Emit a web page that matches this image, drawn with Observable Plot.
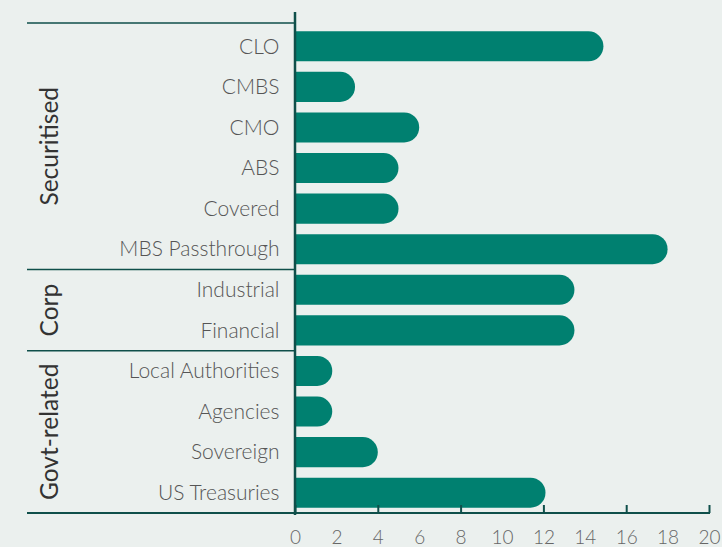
<!DOCTYPE html>
<html><head><meta charset="utf-8">
<script src="https://cdn.jsdelivr.net/npm/d3@7"></script>
<script src="https://cdn.jsdelivr.net/npm/@observablehq/plot@0.6"></script>
<style>
html,body{margin:0;padding:0;background:#ebf0ee;overflow:hidden;}
</style></head><body><div id="chart"></div>
<script>
const categories = ["CLO","CMBS","CMO","ABS","Covered","MBS Passthrough","Industrial","Financial","Local Authorities","Agencies","Sovereign","US Treasuries"];
const values = [14.9, 2.9, 6, 5, 5, 18, 13.5, 13.5, 1.8, 1.8, 4, 12.1];
const groupOf = ["Securitised","Securitised","Securitised","Securitised","Securitised","Securitised","Corp","Corp","Govt-related","Govt-related","Govt-related","Govt-related"];
const groupNames = ["Securitised","Corp","Govt-related"];
const xTickLabels = [0,2,4,6,8,10,12,14,16,18,20];
const xTickMarks = [0,4,8,12,16,20];

const data = categories.map((c,i)=>({category:c, value:values[i], group:groupOf[i]}));

const BAR = "#008070", LINE = "#0f4f4a";
const W = 722, H = 547, mTop = 26, mBottom = 34;

const plot = Plot.plot({
  width: W, height: H,
  marginLeft: 295, marginRight: 13, marginTop: mTop, marginBottom: mBottom,
  style: {background: "transparent", fontFamily: "Lato, 'Open Sans', sans-serif", overflow: "visible"},
  x: {domain: [0, 20]},
  y: {domain: categories, paddingInner: 0.26, paddingOuter: 0.13, round: false},
  marks: [
    // bar starts left of the frame so only its right end shows rounded; left part clipped at x = 0
    Plot.barX(data, {y: "category", x1: -1, x2: "value", fill: BAR, rx: 15, clip: true}),
    Plot.axisY({tickSize: 0, tickPadding: 16, fontSize: 21, fill: "#555", fontWeight: 300, label: null}),
    Plot.axisX({ticks: xTickLabels, tickSize: 0, tickPadding: 17, fontSize: 19, fill: "#666", fontWeight: 300, label: null}),
    Plot.ruleX(xTickMarks, {stroke: LINE, strokeWidth: 2, insetTop: H - mTop - mBottom - 8})
  ]
});
document.getElementById("chart").appendChild(plot);

const svg = d3.select(plot);
const ys = plot.scale("y"), xs = plot.scale("x");
const step = ys.step, bw = ys.bandwidth, gap = (step - bw) / 2;
const x0 = xs.apply(0), x20 = xs.apply(20);
const leftEdge = 27;
const g = svg.append("g");

groupNames.forEach((name, gi) => {
  const cats = categories.filter((c, i) => groupOf[i] === name);
  const top = ys.apply(cats[0]) - gap;
  const bottom = ys.apply(cats[cats.length - 1]) + bw + gap;
  const lineY = gi === 0 ? top - 3 : top;
  g.append("line").attr("x1", leftEdge).attr("x2", x0).attr("y1", lineY).attr("y2", lineY)
    .attr("stroke", LINE).attr("stroke-width", 1.5);
  const cy = (lineY + bottom) / 2;
  g.append("text").attr("transform", `translate(58,${cy}) rotate(-90)`)
    .attr("text-anchor", "middle").attr("font-size", 24.5).attr("fill", "#333")
    .attr("font-family", "Lato, 'Open Sans', sans-serif")
    .text(name);
});
const lastBottom = ys.apply(categories[categories.length - 1]) + bw + gap;
g.append("line").attr("x1", leftEdge).attr("x2", x20 + 1).attr("y1", lastBottom).attr("y2", lastBottom)
  .attr("stroke", LINE).attr("stroke-width", 2);
g.append("line").attr("x1", x0).attr("x2", x0).attr("y1", 12).attr("y2", lastBottom + 2)
  .attr("stroke", LINE).attr("stroke-width", 2.5);
</script></body></html>
